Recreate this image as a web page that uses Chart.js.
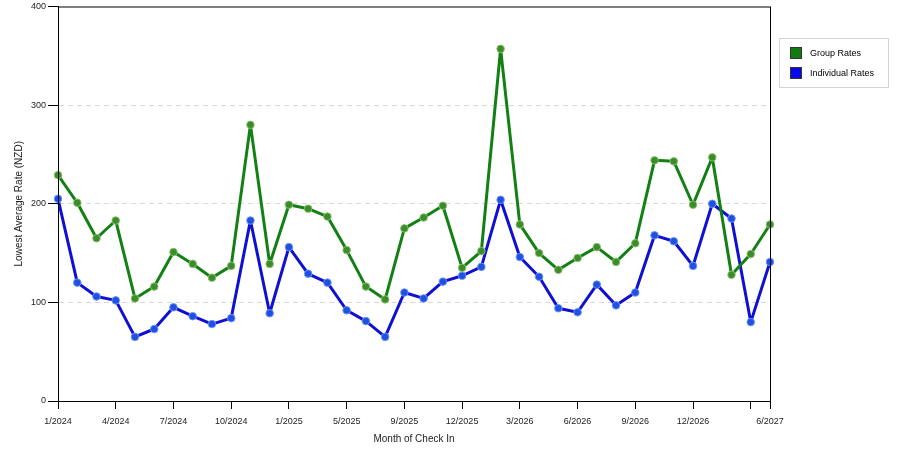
<!DOCTYPE html>
<html>
<head>
<meta charset="utf-8">
<script src="https://cdn.jsdelivr.net/npm/chart.js@4.4.1/dist/chart.umd.min.js"></script>
<style>
  html, body { margin: 0; padding: 0; background: #fff; }
  #wrap { width: 900px; height: 450px; position: relative; }
</style>
</head>
<body>
<div id="wrap"><canvas id="rates"></canvas></div>
<script>
// months with data (some months have no data and are skipped)
const months = [
  '1/2024','2/2024','3/2024','4/2024','5/2024','6/2024','7/2024','8/2024','9/2024','10/2024','11/2024','12/2024',
  '1/2025','2/2025','3/2025','5/2025','6/2025','7/2025','9/2025','10/2025','11/2025','12/2025',
  '1/2026','2/2026','3/2026','4/2026','5/2026','6/2026','7/2026','8/2026','9/2026','10/2026','11/2026','12/2026',
  '1/2027','3/2027','5/2027','6/2027'
];
const tickLabels = ['1/2024','4/2024','7/2024','10/2024','1/2025','5/2025','9/2025','12/2025','3/2026','6/2026','9/2026','12/2026','6/2027'];

const groupRates = [
  229, 201, 165, 183, 104, 116, 151, 139, 125, 137, 280, 139,
  199, 195, 187, 153, 116, 103, 175, 186, 198, 135,
  152, 357, 179, 150, 133, 145, 156, 141, 160, 244, 243, 199,
  247, 128, 149, 179
];
const individualRates = [
  205, 120, 106, 102, 65, 73, 95, 86, 78, 84, 183, 89,
  156, 129, 120, 92, 81, 65, 110, 104, 121, 127,
  136, 204, 146, 126, 94, 90, 118, 97, 110, 168, 162, 137,
  200, 185, 80, 141
];

const GREEN = '#138013';
const BLUE = '#1010d2';
const FONT = '"Liberation Sans", Arial, sans-serif';

// frame round the plot + boxed legend at top right
const framePlugin = {
  id: 'frame',
  afterDraw(chart) {
    const { ctx, chartArea: a } = chart;
    ctx.save();
    ctx.strokeStyle = '#000';
    ctx.lineWidth = 1;
    ctx.strokeRect(a.left + 0.5, a.top + 0.5, a.right - a.left, a.bottom - a.top);

    const lx = a.right + 9, ly = 38, lw = 109, lh = 49;
    ctx.strokeStyle = '#d4d4d4';
    ctx.strokeRect(lx + 0.5, ly + 0.5, lw, lh);
    ctx.font = '9px ' + FONT;
    ctx.textBaseline = 'middle';
    chart.data.datasets.forEach((ds, i) => {
      const y = ly + 15 + i * 20;
      ctx.fillStyle = ds.swatch;
      ctx.fillRect(lx + 11, y - 6, 12, 12);
      ctx.strokeStyle = '#333';
      ctx.strokeRect(lx + 11.5, y - 5.5, 11, 11);
      ctx.fillStyle = '#000';
      ctx.fillText(ds.label, lx + 31, y + 1);
    });
    ctx.restore();
  }
};

new Chart(document.getElementById('rates'), {
  type: 'line',
  data: {
    labels: months,
    datasets: [
      {
        label: 'Group Rates',
        data: groupRates,
        borderColor: GREEN,
        swatch: '#117a11',
        borderWidth: 3,
        borderJoinStyle: 'round',
        pointRadius: 3.8,
        pointBackgroundColor: '#3c8c2c',
        pointBorderColor: 'rgba(140,195,110,0.9)',
        pointBorderWidth: 1,
        tension: 0,
      },
      {
        label: 'Individual Rates',
        data: individualRates,
        borderColor: BLUE,
        swatch: '#0a0ae8',
        borderWidth: 3,
        borderJoinStyle: 'round',
        pointRadius: 3.8,
        pointBackgroundColor: '#2050e0',
        pointBorderColor: 'rgba(110,150,255,0.9)',
        pointBorderWidth: 1,
        tension: 0,
      },
    ],
  },
  options: {
    responsive: true,
    maintainAspectRatio: false,
    animation: false,
    layout: { padding: { left: 13, right: 130, top: 0, bottom: 6 } },
    plugins: {
      legend: { display: false },
      tooltip: { enabled: false },
    },
    scales: {
      x: {
        offset: false,
        afterBuildTicks: scale => {
          const last = scale.ticks.length - 1;
          scale.ticks = scale.ticks.filter((t, i) => i % 3 === 0 || i === last);
        },
        ticks: {
          autoSkip: false,
          maxRotation: 0,
          padding: 8,
          color: '#222',
          font: { family: FONT, size: 9, lineHeight: 1 },
          callback: function (v) {
            const lab = this.getLabelForValue(v);
            return tickLabels.includes(lab) ? lab : '';
          },
        },
        grid: { drawOnChartArea: false, tickLength: 8, color: '#000' },
        border: { color: '#000' },
        title: {
          display: true,
          text: 'Month of Check In',
          color: '#222',
          font: { family: FONT, size: 10, lineHeight: 1 },
          padding: { top: 0, bottom: 0 },
        },
      },
      y: {
        min: 0,
        max: 400,
        ticks: {
          stepSize: 100,
          padding: 2,
          color: '#222',
          font: { family: FONT, size: 9, lineHeight: 1 },
        },
        grid: {
          color: c => (c.tick.value === 0 || c.tick.value === 400) ? 'rgba(0,0,0,0)' : '#d8d8d8',
          tickColor: '#000',
          tickLength: 10,
        },
        border: { color: '#000', dash: [5, 4] },
        title: {
          display: true,
          text: 'Lowest Average Rate (NZD)',
          color: '#222',
          font: { family: FONT, size: 10 },
          padding: { top: 0, bottom: 4 },
        },
      },
    },
  },
  plugins: [framePlugin],
});
</script>
</body>
</html>
